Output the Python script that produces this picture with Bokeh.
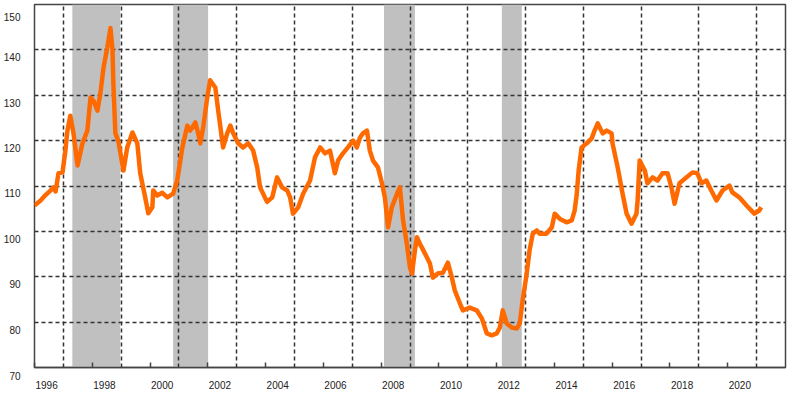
from bokeh.plotting import figure
from bokeh.models import (ColumnDataSource, BoxAnnotation, FixedTicker, LinearAxis, Range1d)
from bokeh.embed import file_html
from bokeh.resources import INLINE

# ---- data (decimal years, index values) ----
years = [
    1996.00, 1996.21, 1996.38, 1996.55, 1996.66, 1996.73, 1996.83, 1996.97, 1997.07, 1997.14,
    1997.24, 1997.35, 1997.49, 1997.66, 1997.83, 1997.94, 1998.04, 1998.18, 1998.28, 1998.39,
    1998.52, 1998.63, 1998.70, 1998.73, 1998.80, 1998.90, 1999.08, 1999.21, 1999.39, 1999.56,
    1999.66, 1999.80, 1999.94, 2000.08, 2000.11, 2000.25, 2000.42, 2000.60, 2000.80, 2000.94,
    2001.12, 2001.29, 2001.39, 2001.57, 2001.67, 2001.74, 2001.84, 2001.98, 2002.08, 2002.26,
    2002.36, 2002.53, 2002.67, 2002.78, 2002.88, 2003.05, 2003.22, 2003.40, 2003.57, 2003.71,
    2003.81, 2004.05, 2004.23, 2004.40, 2004.57, 2004.75, 2004.85, 2004.95, 2005.13, 2005.30,
    2005.54, 2005.71, 2005.89, 2006.06, 2006.23, 2006.40, 2006.51, 2006.68, 2006.85, 2007.03,
    2007.16, 2007.27, 2007.37, 2007.51, 2007.61, 2007.72, 2007.89, 2008.03, 2008.13, 2008.24,
    2008.37, 2008.55, 2008.65, 2008.76, 2008.89, 2009.00, 2009.07, 2009.17, 2009.24, 2009.34,
    2009.52, 2009.69, 2009.79, 2009.96, 2010.14, 2010.31, 2010.45, 2010.55, 2010.73, 2010.83,
    2011.07, 2011.31, 2011.49, 2011.66, 2011.83, 2012.00, 2012.11, 2012.21, 2012.35, 2012.52,
    2012.70, 2012.80, 2012.90, 2013.04, 2013.14, 2013.25, 2013.39, 2013.49, 2013.73, 2013.91,
    2014.01, 2014.18, 2014.42, 2014.60, 2014.70, 2014.77, 2014.84, 2014.94, 2015.12, 2015.29,
    2015.39, 2015.50, 2015.57, 2015.67, 2015.81, 2015.98, 2016.01, 2016.19, 2016.36, 2016.50,
    2016.67, 2016.84, 2016.88, 2016.95, 2017.13, 2017.22, 2017.40, 2017.57, 2017.74, 2017.92,
    2018.05, 2018.16, 2018.33, 2018.57, 2018.78, 2018.95, 2019.09, 2019.26, 2019.43, 2019.61,
    2019.82, 2020.06, 2020.16, 2020.40, 2020.65, 2020.92, 2021.09, 2021.16,
]
index_values = [
    105.7, 106.8, 108.0, 109.0, 109.7, 108.8, 112.8, 113.0, 117.8, 122.2,
    125.5, 121.6, 114.5, 119.4, 122.2, 129.5, 128.8, 126.6, 130.4, 136.1,
    140.5, 144.8, 140.0, 132.6, 121.6, 120.0, 113.4, 118.5, 121.8, 119.4,
    112.8, 108.5, 104.0, 105.3, 109.0, 107.9, 108.5, 107.5, 108.3, 111.2,
    118.5, 123.3, 122.2, 124.0, 121.5, 119.4, 122.9, 129.5, 133.3, 131.7,
    126.6, 118.5, 121.6, 123.3, 121.6, 119.4, 118.5, 119.4, 117.8, 114.1,
    109.7, 106.5, 107.5, 111.9, 109.7, 109.0, 107.5, 103.9, 105.3, 108.3,
    111.2, 116.3, 118.5, 117.2, 117.8, 112.8, 115.6, 117.2, 118.5, 120.0,
    118.5, 120.7, 121.6, 122.2, 117.8, 115.6, 114.1, 110.6, 107.5, 100.9,
    105.3, 108.3, 109.7, 102.4, 97.3, 92.0, 90.7, 95.8, 98.7, 97.3,
    95.1, 92.9, 89.8, 90.7, 90.9, 93.1, 89.8, 87.0, 84.1, 82.6,
    83.2, 82.6, 80.8, 77.5, 77.1, 77.5, 78.8, 82.6, 79.7, 78.8,
    78.6, 79.7, 84.8, 90.7, 95.8, 99.5, 100.2, 99.5, 99.5, 100.9,
    103.9, 102.8, 102.0, 102.4, 104.6, 108.0, 113.5, 118.5, 119.4, 120.5,
    122.2, 123.8, 122.9, 121.6, 122.2, 121.6, 119.4, 114.1, 108.3, 103.9,
    101.7, 103.9, 106.8, 115.6, 113.4, 110.6, 111.9, 111.2, 112.8, 112.8,
    109.7, 106.1, 110.6, 111.9, 113.0, 112.8, 110.6, 111.2, 109.0, 106.8,
    109.0, 110.1, 108.6, 107.5, 105.7, 103.9, 104.6, 105.3,
]

# shaded periods (start, end in decimal years)
band_starts = [1997.31, 2000.80, 2008.10, 2012.18]
band_ends = [1998.97, 2002.01, 2009.17, 2012.87]

x_tick_years = [1996, 1998, 2000, 2002, 2004, 2006, 2008, 2010, 2012, 2014, 2016, 2018, 2020]
x_tick_labels = ["1996", "1998", "2000", "2002", "2004", "2006", "2008", "2010", "2012",
                 "2014", "2016", "2018", "2020"]
x_grid_years = [1997, 1999, 2001, 2003, 2005, 2007, 2009, 2011, 2013, 2015, 2017, 2019, 2021]
y_tick_values = [70, 80, 90, 100, 110, 120, 130, 140, 150]
y_tick_labels = ["70", "80", "90", "100", "110", "120", "130", "140", "150"]

FONT = "Liberation Sans"
TXT = "#222222"
EDGE = "#444444"
W, H = 800, 403
TOP, BOTTOM = 4, 36
Y0, Y1 = 70, 150

p = figure(width=W, height=H, output_backend="svg", toolbar_location=None,
           x_range=Range1d(1996, 2022), y_range=Range1d(Y0, Y1),
           min_border_left=34, min_border_right=15, min_border_top=TOP, min_border_bottom=BOTTOM)
p.background_fill_color = "white"
p.border_fill_color = "white"
p.outline_line_color = EDGE
p.outline_line_width = 1.5

# shaded bands below the grid
for s, e in zip(band_starts, band_ends):
    p.add_layout(BoxAnnotation(left=s, right=e, fill_color="#c0c0c0", fill_alpha=1.0,
                               line_color=None, level="image"))

# grids
p.xgrid.ticker = FixedTicker(ticks=x_grid_years)
p.ygrid.ticker = FixedTicker(ticks=y_tick_values[1:-1])
for g in (p.xgrid, p.ygrid):
    g.grid_line_color = "#333333"
    g.grid_line_width = 1.5
    g.grid_line_dash = "4 3"

# inner x axis: tick marks only (pointing inward)
ax = p.xaxis[0]
ax.ticker = FixedTicker(ticks=x_tick_years)
ax.major_label_overrides = {y: "" for y in x_tick_years}
ax.minor_tick_line_color = None
ax.major_tick_in = 5
ax.major_tick_out = 0
ax.major_tick_line_color = EDGE
ax.major_tick_line_width = 1.5
ax.axis_line_color = EDGE
ax.axis_line_width = 1.5
ax.major_label_standoff = 0

# outer x axis: labels sitting to the right of each tick (left-aligned look)
lab_shift = 0.42
lab_axis = LinearAxis(ticker=FixedTicker(ticks=[y + lab_shift for y in x_tick_years]),
                      major_label_overrides={y + lab_shift: l for y, l in zip(x_tick_years, x_tick_labels)},
                      axis_line_color=None, major_tick_line_color=None, minor_tick_line_color=None,
                      major_label_standoff=7, major_label_text_font=FONT,
                      major_label_text_font_size="10px", major_label_text_color=TXT)
p.add_layout(lab_axis, "below")

# y axis: labels hang a little below their grid lines, as in the original
px_per_unit = (H - TOP - BOTTOM) / (Y1 - Y0)
wanted = {v: (13 if v == Y1 else 8) for v in y_tick_values}
y_lab_ticks = []
y_lab_text = []
for v, l in zip(y_tick_values, y_tick_labels):
    if v == Y0:
        # cannot move below the frame: push the text down with an empty first line
        y_lab_ticks.append(v)
        y_lab_text.append("\n" + l)
    else:
        y_lab_ticks.append(round(v - wanted[v] / px_per_unit, 3))
        y_lab_text.append(l)
yax = p.yaxis[0]
yax.ticker = FixedTicker(ticks=y_lab_ticks)
yax.major_label_overrides = {t: l for t, l in zip(y_lab_ticks, y_lab_text)}
yax.major_label_text_line_height = 1.6
yax.axis_line_color = None
yax.major_tick_line_color = None
yax.minor_tick_line_color = None
yax.major_tick_out = 0
yax.major_tick_in = 0
yax.major_label_standoff = 14
yax.major_label_text_font = FONT
yax.major_label_text_font_size = "10px"
yax.major_label_text_color = TXT

src = ColumnDataSource(dict(x=years, y=index_values))
p.line("x", "y", source=src, line_color="#FF6A00", line_width=4.5, line_join="round")

open("out.html", "w").write(file_html(p, INLINE))
